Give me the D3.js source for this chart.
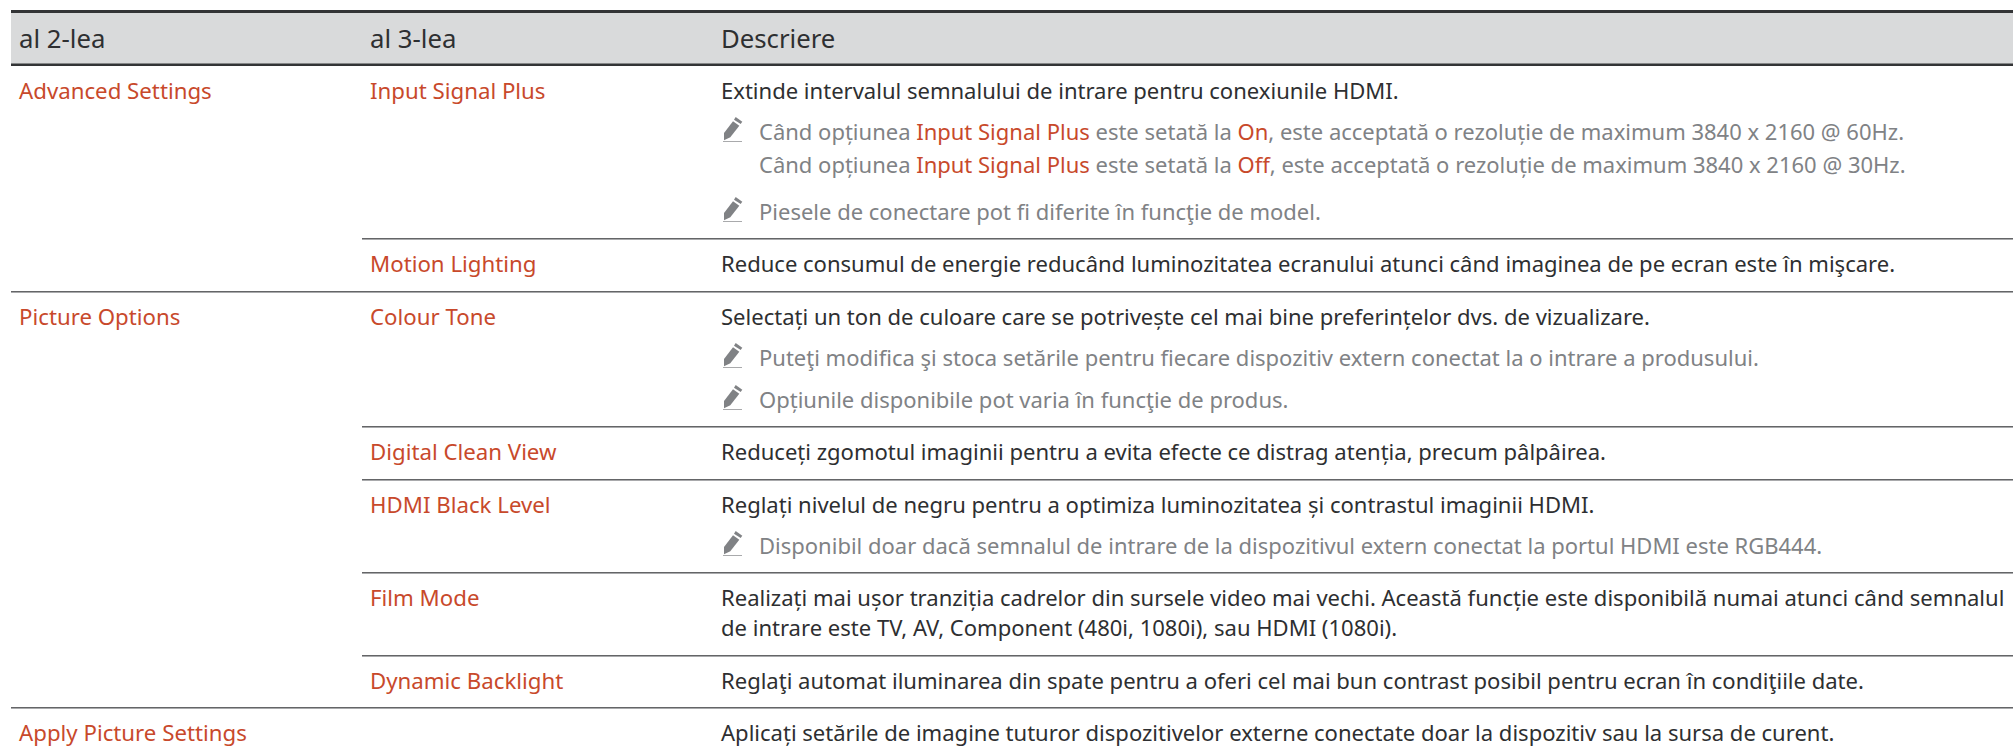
<!DOCTYPE html>
<html>
<head>
<meta charset="utf-8">
<script src="https://d3js.org/d3.v7.min.js"></script>
<style>
html, body { margin: 0; padding: 0; background: #fff; overflow: hidden; }
text { font-family: "Noto Sans", sans-serif; font-size: 21px; white-space: pre; }
text.head { font-size: 25px; }
</style>
</head>
<body>
<svg id="table" width="2013" height="754"></svg>
<script>
const headers = ["al 2-lea", "al 3-lea", "Descriere"];
const groupLabels = ["Advanced Settings", "", "Picture Options", "", "", "", "", "Apply Picture Settings"];
const settingLabels = ["Input Signal Plus", "Motion Lighting", "Colour Tone", "Digital Clean View", "HDMI Black Level", "Film Mode", "Dynamic Backlight", ""];
// text between * is the orange highlight
const descriptions = [
    ["Extinde intervalul semnalului de intrare pentru conexiunile HDMI."],
    ["Reduce consumul de energie reducând luminozitatea ecranului atunci când imaginea de pe ecran este în mişcare."],
    ["Selectați un ton de culoare care se potrivește cel mai bine preferințelor dvs. de vizualizare."],
    ["Reduceți zgomotul imaginii pentru a evita efecte ce distrag atenția, precum pâlpâirea."],
    ["Reglați nivelul de negru pentru a optimiza luminozitatea și contrastul imaginii HDMI."],
    ["Realizați mai ușor tranziția cadrelor din sursele video mai vechi. Această funcție este disponibilă numai atunci când semnalul",
     "de intrare este TV, AV, Component (480i, 1080i), sau HDMI (1080i)."],
    ["Reglaţi automat iluminarea din spate pentru a oferi cel mai bun contrast posibil pentru ecran în condiţiile date."],
    ["Aplicați setările de imagine tuturor dispozitivelor externe conectate doar la dispozitiv sau la sursa de curent."]
];
const notes = [
    [["Când opțiunea *Input Signal Plus* este setată la *On*, este acceptată o rezoluție de maximum 3840 x 2160 @ 60Hz.",
      "Când opțiunea *Input Signal Plus* este setată la *Off*, este acceptată o rezoluție de maximum 3840 x 2160 @ 30Hz."],
     ["Piesele de conectare pot fi diferite în funcţie de model."]],
    [],
    [["Puteţi modifica şi stoca setările pentru fiecare dispozitiv extern conectat la o intrare a produsului."],
     ["Opțiunile disponibile pot varia în funcţie de produs."]],
    [],
    [["Disponibil doar dacă semnalul de intrare de la dispozitivul extern conectat la portul HDMI este RGB444."]],
    [],
    [],
    []
];

const colours = { band: "#d9dadb", rule: "#333436", rowDark: "#646567", rowLight: "#a9aaac", text: "#2e2f31", note: "#808285", accent: "#c8492b" };
// width of the text compared to plain Noto Sans at the size set above
const squeeze = { head: 1.03, label: 1.06, body: 1.05, note: 1.048 };

const svg = d3.select("#table");
const x = d3.scaleOrdinal().domain([0, 1, 2]).range([11, 362, 713]);
const pad = 8, noteIndent = 38;

// walk the rows, working out each baseline from the one before
let cursor = 64.5;
const rows = descriptions.map((desc, i) => {
    const top = cursor;
    const lines = [];
    let y = top + 34;
    desc.forEach((t, j) => {
        if (j > 0) y += 30;
        lines.push({ t, y: Math.round(y), note: false, icon: false });
    });
    notes[i].forEach((note, n) => {
        if (n === 0) y += 41;
        else y += notes[i][n - 1].length > 1 ? 47 : 42;
        note.forEach((t, j) => {
            if (j > 0) y += 33;
            lines.push({ t, y: Math.round(y), note: true, icon: j === 0 });
        });
    });
    cursor = y + 18.5;
    return { i, top: Math.round(top), base: Math.round(top + 34), lines };
});

svg.append("rect")
    .attr("x", x(0)).attr("y", 12)
    .attr("width", 2013 - x(0)).attr("height", 52)
    .attr("fill", colours.band);

svg.selectAll("line.head")
    .data([11.5, 64.75])
    .join("line")
    .attr("class", "head")
    .attr("x1", x(0)).attr("x2", 2013)
    .attr("y1", d => d).attr("y2", d => d)
    .attr("stroke", colours.rule).attr("stroke-width", (d, i) => i ? 2.5 : 3);

// rules between rows: a new group starts at the first column
const rules = svg.selectAll("g.row")
    .data(rows.slice(1))
    .join("g")
    .attr("class", "row");
[colours.rowDark, colours.rowLight].forEach((c, k) => {
    rules.append("rect")
        .attr("x", d => groupLabels[d.i] ? x(0) : x(1))
        .attr("y", d => d.top + k)
        .attr("width", d => 2013 - (groupLabels[d.i] ? x(0) : x(1)))
        .attr("height", 1)
        .attr("fill", c);
});

const place = (px, y, kind) => "translate(" + px + "," + y + ") scale(" + squeeze[kind] + ",1)";

svg.selectAll("text.head")
    .data(headers)
    .join("text")
    .attr("class", "head")
    .attr("transform", (d, i) => place(x(i) + pad, 48, "head"))
    .attr("fill", colours.text)
    .text(d => d);

svg.selectAll("text.group")
    .data(rows.filter(d => groupLabels[d.i]))
    .join("text")
    .attr("class", "group")
    .attr("transform", d => place(x(0) + pad, d.base, "label"))
    .attr("fill", colours.accent)
    .text(d => groupLabels[d.i]);

svg.selectAll("text.setting")
    .data(rows.filter(d => settingLabels[d.i]))
    .join("text")
    .attr("class", "setting")
    .attr("transform", d => place(x(1) + pad, d.base, "label"))
    .attr("fill", colours.accent)
    .text(d => settingLabels[d.i]);

const allLines = rows.flatMap(d => d.lines);

svg.selectAll("text.line")
    .data(allLines)
    .join("text")
    .attr("class", "line")
    .attr("transform", d => place(x(2) + pad + (d.note ? noteIndent : 0), d.y, d.note ? "note" : "body"))
    .attr("fill", d => d.note ? colours.note : colours.text)
    .each(function(d) {
        d3.select(this).selectAll("tspan")
            .data(d.t.split("*"))
            .join("tspan")
            .attr("fill", (s, i) => i % 2 ? colours.accent : null)
            .text(s => s);
    });

// pencil icon in front of each note
const icons = svg.selectAll("g.icon")
    .data(allLines.filter(d => d.icon))
    .join("g")
    .attr("class", "icon")
    .attr("transform", d => "translate(" + (x(2) + 10) + "," + (d.y - 23) + ")")
    .attr("fill", colours.note);
icons.append("path").attr("d", "M12.7 0 L19.3 4.7 L17.7 7 L11 2.7 Z");
icons.append("path").attr("d", "M10 4.3 L16.3 8.7 L7.3 20.3 L1 23.3 L1 16 Z");
icons.append("path").attr("d", "M0 24.5 H19").attr("stroke", "#a9aaac").attr("stroke-width", 1).attr("fill", "none");
</script>
</body>
</html>
